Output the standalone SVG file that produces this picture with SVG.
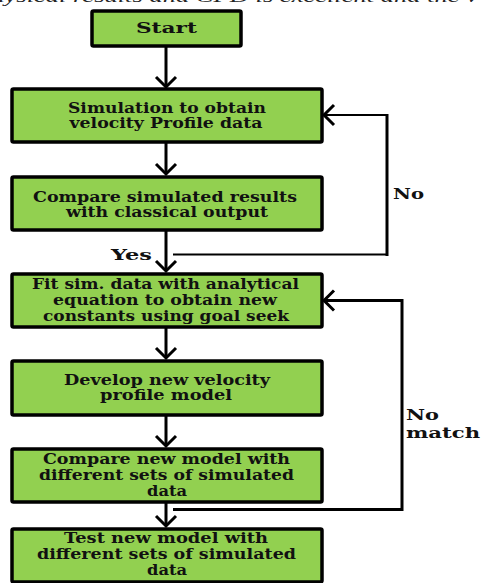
<svg xmlns="http://www.w3.org/2000/svg" width="482" height="583" viewBox="0 0 482 583">
<style>
.box{fill:#92D050;stroke:#000;stroke-width:3.5;}
.t{font-family:"DejaVu Serif","Liberation Serif",serif;font-weight:bold;font-size:14px;fill:#111;text-anchor:middle;}
.lbl{font-family:"DejaVu Serif","Liberation Serif",serif;font-weight:bold;font-size:15px;fill:#111;}
.ln{fill:none;stroke:#000;}
</style>
<defs>
<marker id="ah" markerUnits="userSpaceOnUse" markerWidth="24" markerHeight="24" refX="12" refY="12" orient="auto" viewBox="0 0 24 24">
<path d="M2,2 L12,12 L2,22" fill="none" stroke="#000" stroke-width="3"/>
</marker>
</defs>
<rect width="482" height="583" fill="#fff"/>
<text x="-22" y="1.5" font-family="Liberation Serif,serif" font-style="italic" font-size="17" textLength="500" lengthAdjust="spacingAndGlyphs" fill="#222">physical results and CFD is excellent and the v</text>

<g id="connectors">
<path class="ln" stroke-width="3" d="M166,46 V87" marker-end="url(#ah)"/>
<path class="ln" stroke-width="3" d="M166,142 V174" marker-end="url(#ah)"/>
<path class="ln" stroke-width="3" d="M166,230 V271" marker-end="url(#ah)"/>
<path class="ln" stroke-width="3" d="M166,327 V358" marker-end="url(#ah)"/>
<path class="ln" stroke-width="3" d="M166,415 V446" marker-end="url(#ah)"/>
<path class="ln" stroke-width="3" d="M166,502 V526" marker-end="url(#ah)"/>
<path class="ln" stroke-width="2" d="M173,254.5 H387" />
<path class="ln" stroke-width="3" d="M387,256 V114" />
<path class="ln" stroke-width="2" d="M388,115 H324" marker-end="url(#ah)"/>
<path class="ln" stroke-width="3" d="M173,509.5 H402 V300.5 H324" marker-end="url(#ah)"/>
<text class="lbl" x="393" y="199" textLength="31" lengthAdjust="spacingAndGlyphs">No</text>
<text class="lbl" x="111" y="260" textLength="41" lengthAdjust="spacingAndGlyphs">Yes</text>
<text class="lbl" x="406" y="420" textLength="33" lengthAdjust="spacingAndGlyphs">No</text>
<text class="lbl" x="406" y="438" textLength="74" lengthAdjust="spacingAndGlyphs">match</text>
</g>

<g id="start">
<rect class="box" x="92" y="11" width="149" height="35" rx="1.5"/>
<text class="t" x="166.5" y="33" font-size="16" textLength="61" lengthAdjust="spacingAndGlyphs">Start</text>
</g>
<g id="simulation">
<rect class="box" x="12" y="89" width="310" height="53" rx="1.5"/>
<text class="t" x="167" y="113" textLength="198" lengthAdjust="spacingAndGlyphs">Simulation to obtain</text>
<text class="t" x="166" y="128" textLength="193" lengthAdjust="spacingAndGlyphs">velocity Profile data</text>
</g>
<g id="compare">
<rect class="box" x="12" y="177" width="310" height="53" rx="1.5"/>
<text class="t" x="165" y="202" textLength="264" lengthAdjust="spacingAndGlyphs">Compare simulated results</text>
<text class="t" x="167" y="217" textLength="202" lengthAdjust="spacingAndGlyphs">with classical output</text>
</g>
<g id="fit">
<rect class="box" x="12" y="274" width="310" height="53" rx="1.5"/>
<text class="t" x="165.5" y="289" textLength="267" lengthAdjust="spacingAndGlyphs">Fit sim. data with analytical</text>
<text class="t" x="165" y="305" textLength="224" lengthAdjust="spacingAndGlyphs">equation to obtain new</text>
<text class="t" x="166" y="321" textLength="246" lengthAdjust="spacingAndGlyphs">constants using goal seek</text>
</g>
<g id="develop">
<rect class="box" x="12" y="361" width="310" height="54" rx="1.5"/>
<text class="t" x="167" y="385" textLength="206" lengthAdjust="spacingAndGlyphs">Develop new velocity</text>
<text class="t" x="166" y="400" textLength="132" lengthAdjust="spacingAndGlyphs">profile model</text>
</g>
<g id="compare-new">
<rect class="box" x="12" y="449" width="310" height="53" rx="1.5"/>
<text class="t" x="166.5" y="464" textLength="247" lengthAdjust="spacingAndGlyphs">Compare new model with</text>
<text class="t" x="166.5" y="480" textLength="255" lengthAdjust="spacingAndGlyphs">different sets of simulated</text>
<text class="t" x="167" y="496" textLength="40" lengthAdjust="spacingAndGlyphs">data</text>
</g>
<g id="test">
<rect class="box" x="12" y="529" width="310" height="53" rx="1.5"/>
<text class="t" x="166" y="543" textLength="204" lengthAdjust="spacingAndGlyphs">Test new model  with</text>
<text class="t" x="166.5" y="559" textLength="259" lengthAdjust="spacingAndGlyphs">different sets of  simulated</text>
<text class="t" x="167" y="575" textLength="40" lengthAdjust="spacingAndGlyphs">data</text>
</g>
</svg>
